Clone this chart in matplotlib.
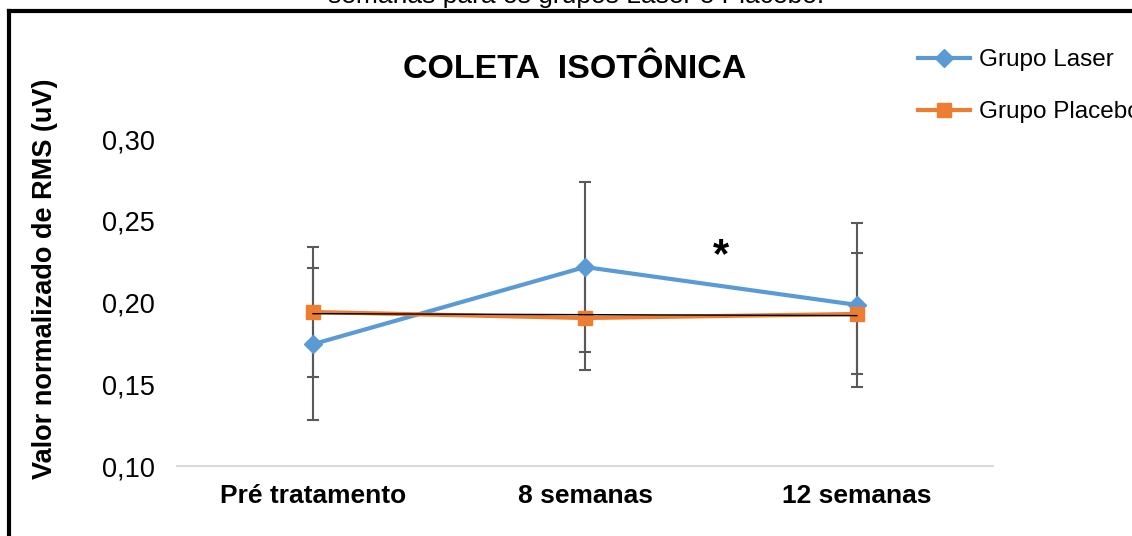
import numpy as np
import matplotlib
matplotlib.use("Agg")
import matplotlib.pyplot as plt
from matplotlib.lines import Line2D
from matplotlib.ticker import FuncFormatter

plt.rcParams['font.family'] = ['Liberation Sans', 'DejaVu Sans']

# data
categories = ['Pré tratamento', '8 semanas', '12 semanas']
laser_mean = [0.1745, 0.2217, 0.1985]
laser_err = [0.0465, 0.0522, 0.0500]
placebo_mean = [0.1942, 0.1905, 0.1930]
placebo_err = [0.0400, 0.0320, 0.0370]

x = np.arange(len(categories))

fig = plt.figure(figsize=(11.32, 5.36), dpi=100)
ax = fig.add_axes([177/1132, 1 - 466/536, (993 - 177)/1132, (466 - 139)/536])

err_kw = dict(ecolor='#595959', elinewidth=1.5, capsize=4.3, capthick=1.5)
ax.errorbar(x, laser_mean, yerr=laser_err, fmt='none', zorder=1, **err_kw)
ax.errorbar(x, placebo_mean, yerr=placebo_err, fmt='none', zorder=1, **err_kw)

ax.plot(x, laser_mean, color='#5B9BD5', lw=3, marker='D', markersize=9.5,
        label='Grupo Laser', zorder=3)
ax.plot(x, placebo_mean, color='#ED7D31', lw=3, marker='s', markersize=10.5,
        label='Grupo Placebo', zorder=3)

# linear trend of placebo
coef = np.polyfit(x, placebo_mean, 1)
ax.plot(x, np.polyval(coef, x), color='black', lw=1, zorder=4)

ax.text(1.5, 0.2285, '*', fontsize=30, fontweight='bold', ha='center', va='center')

ax.set_xlim(-0.5, 2.5)
ax.set_ylim(0.10, 0.30)
ax.set_yticks([0.10, 0.15, 0.20, 0.25, 0.30])
ax.yaxis.set_major_formatter(FuncFormatter(lambda v, p: f'{v:.2f}'.replace('.', ',')))
ax.set_xticks(x)
ax.set_xticklabels(categories, fontsize=19, fontweight='bold')
ax.tick_params(axis='y', length=0, labelsize=19.5, pad=16)
ax.tick_params(axis='x', length=0, pad=13)
for s in ['top', 'right', 'left']:
    ax.spines[s].set_visible(False)
ax.spines['bottom'].set_color('#d9d9d9')
ax.spines['bottom'].set_linewidth(1.5)

fig.text(575/1132, 1 - 70/536, 'COLETA  ISOTÔNICA', fontsize=24.5, fontweight='bold',
         ha='center', va='center')
fig.text(45/1132, 1 - 279/536, 'Valor normalizado de RMS (uV)', fontsize=19.5,
         fontweight='bold', rotation=90, ha='center', va='center')
fig.text(576/1132, 1 - 3/536, 'semanas para os grupos Laser e Placebo.', fontsize=19,
         ha='center', va='baseline')

fig.legend(loc='upper left', bbox_to_anchor=(918/1132, 1 - 49/536), frameon=False,
           fontsize=17.5, labelspacing=1.25, handlelength=2.15, handletextpad=0.35,
           borderpad=0, borderaxespad=0)

# outer frame
fig.add_artist(Line2D([9/1132, 9/1132], [0, 1 - 11/536], transform=fig.transFigure,
                      color='black', lw=3))
fig.add_artist(Line2D([9/1132, 1], [1 - 11/536, 1 - 11/536], transform=fig.transFigure,
                      color='black', lw=3))

fig.savefig('out.png', dpi=100)
